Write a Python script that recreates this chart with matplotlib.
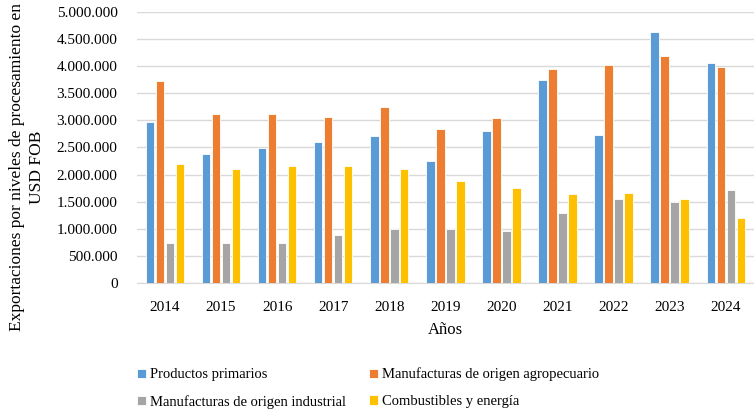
import matplotlib
matplotlib.use("Agg")
import matplotlib.pyplot as plt
from matplotlib.ticker import FuncFormatter
import numpy as np

years = ["2014", "2015", "2016", "2017", "2018", "2019", "2020", "2021", "2022", "2023", "2024"]
primarios = [2973000, 2383000, 2488000, 2592000, 2703000, 2242000, 2795000, 3741000, 2733000, 4625000, 4048000]
agropecuario = [3730000, 3114000, 3114000, 3053000, 3237000, 2838000, 3040000, 3943000, 4011000, 4195000, 3986000]
industrial = [743000, 743000, 743000, 885000, 1001000, 995000, 964000, 1284000, 1542000, 1499000, 1708000]
combustibles = [2187000, 2095000, 2156000, 2156000, 2107000, 1880000, 1744000, 1634000, 1665000, 1542000, 1192000]

series_names = ["Productos primarios", "Manufacturas de origen agropecuario",
                "Manufacturas de origen industrial", "Combustibles y energía"]
colors = ["#5B9BD5", "#ED7D31", "#A5A5A5", "#FFC000"]

plt.rcParams['font.family'] = ['Liberation Serif', 'DejaVu Serif']

fig = plt.figure(figsize=(7.54, 4.09), dpi=100)
ax = fig.add_axes([0.1817, 0.308, 0.818, 0.663])

x = np.arange(len(years))
pitch = 0.178
width = 0.15
data = [primarios, agropecuario, industrial, combustibles]
handles = []
for i, (vals, c, name) in enumerate(zip(data, colors, series_names)):
    h = ax.bar(x + (i - 1.5) * pitch, vals, width=width, color=c, edgecolor="white",
               linewidth=0.6, label=name, zorder=3)
    handles.append(h)

ax.set_xlim(-0.5, len(years) - 0.5)
ax.set_ylim(0, 5000000)
ax.set_yticks(np.arange(0, 5000001, 500000))
ax.yaxis.set_major_formatter(FuncFormatter(lambda v, p: f"{int(v):,}".replace(",", ".")))
ax.set_xticks(x)
ax.set_xticklabels(years)
ax.grid(axis="y", color="#D9D9D9", linewidth=1, zorder=0)
for s in ["top", "right", "left"]:
    ax.spines[s].set_visible(False)
ax.spines["bottom"].set_color("#D9D9D9")
ax.tick_params(axis="both", length=0, labelsize=11, colors="#000000")
ax.tick_params(axis="x", pad=13)
ax.tick_params(axis="y", pad=14)

ax.set_xlabel("Años", fontsize=12, labelpad=6)
fig.text(0.036, 0.592, "Exportaciones por niveles de procesamiento en\nUSD FOB",
         rotation=90, ha="center", va="center", fontsize=12.5, linespacing=1.35)

order = [0, 2, 1, 3]
leg = fig.legend(handles=[handles[i] for i in order], labels=[series_names[i] for i in order],
                 loc="lower left", bbox_to_anchor=(0.164, -0.032), ncol=2, frameon=False,
                 fontsize=10.5, handlelength=0.6, handleheight=0.6, handletextpad=0.3,
                 columnspacing=1.6, labelspacing=0.95)

fig.savefig("out.png", dpi=100)
